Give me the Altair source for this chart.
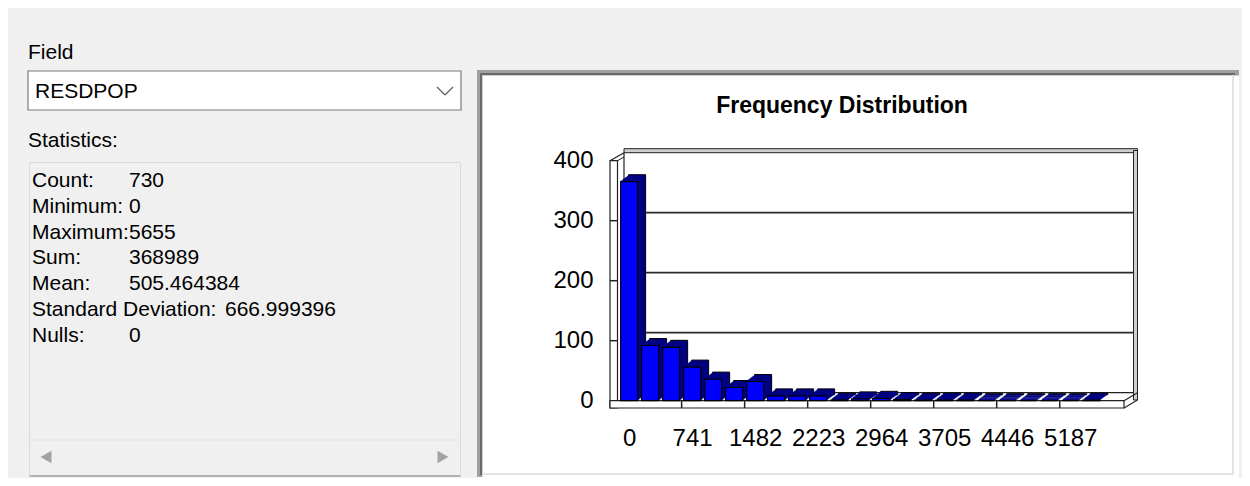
import altair as alt
import pandas as pd

# ---------------- data ----------------
counts = [365, 92, 89, 56, 36, 22, 32, 8, 8, 8, 1, 3, 4, 2, 1, 1, 1, 0, 0, 0, 0, 0, 1]
bin_index = list(range(len(counts)))
x_tick_labels = ["0", "741", "1482", "2223", "2964", "3705", "4446", "5187"]
x_tick_bins = [0, 3, 6, 9, 12, 15, 18, 21]
x_tick_marks = [2.5, 5.5, 8.5, 11.5, 14.5, 17.5, 20.5]
y_ticks = [0, 100, 200, 300, 400]
grid_values = [100, 200, 300]
stat_labels = ["Count:", "Minimum:", "Maximum:", "Sum:", "Mean:", "Standard Deviation:", "Nulls:"]
stat_values = ["730", "0", "5655", "368989", "505.464384", "666.999396", "0"]
field_label = "Field"
field_name = "RESDPOP"
stats_heading = "Statistics:"
chart_title = "Frequency Distribution"

# ---------------- layout helpers ----------------
OX, OY = 610.0, 160.7      # page position of plot origin
W, H = 514, 240
FONT = "Liberation Sans, Arial, sans-serif"
one = pd.DataFrame({"k": [0]})


def px(x):
    return x - OX


def py(y):
    return y - OY


def rect(x1, y1, x2, y2, **kw):
    return alt.Chart(one).mark_rect(**kw).encode(
        x=alt.value(px(x1)), x2=alt.value(px(x2)),
        y=alt.value(py(y1)), y2=alt.value(py(y2)))


def rule(x1, y1, x2, y2, color="#222222", w=1.0):
    return alt.Chart(one).mark_rule(color=color, strokeWidth=w).encode(
        x=alt.value(px(x1)), x2=alt.value(px(x2)),
        y=alt.value(py(y1)), y2=alt.value(py(y2)))


def text(x, y, s, size=21, align="left", weight="normal"):
    return alt.Chart(one).mark_text(
        font=FONT, fontSize=size, align=align, baseline="middle",
        fontWeight=weight, color="#000000").encode(
        x=alt.value(px(x)), y=alt.value(py(y)), text=alt.value(s))


layers = []

# ---------------- left panel ----------------
layers.append(text(28, 53, field_label))
layers.append(rect(28, 71, 461, 110, fill="white", stroke="#7a7a7a", strokeWidth=1.2))
layers.append(text(35, 92, field_name))
layers.append(rule(437, 87, 445, 95, color="#606060", w=1.3))
layers.append(rule(445, 95, 453, 87, color="#606060", w=1.3))
layers.append(text(28, 141, stats_heading))
layers.append(rect(29.5, 162.5, 460.5, 475.5, fill="#f0f0f0", stroke="#dadada", strokeWidth=1))
layers.append(rule(29.5, 476, 460.5, 476, color="#a0a0a0", w=1.5))
layers.append(rule(30, 440, 460, 440, color="#e2e2e2", w=1.2))
for k, (lab, val) in enumerate(zip(stat_labels, stat_values)):
    yy = 181 + 25.8 * k
    layers.append(text(32, yy, lab))
    vx = 225 if lab.startswith("Standard") else 129
    layers.append(text(vx, yy, val))
layers.append(alt.Chart(one).mark_point(shape="triangle-left", filled=True, color="#a3a3a3",
                                        size=160, opacity=1).encode(
    x=alt.value(px(46)), y=alt.value(py(457))))
layers.append(alt.Chart(one).mark_point(shape="triangle-right", filled=True, color="#a3a3a3",
                                        size=160, opacity=1).encode(
    x=alt.value(px(443)), y=alt.value(py(457))))

# ---------------- chart panel frame ----------------
layers.append(rect(477, 70, 1239, 479, fill="white"))
layers.append(rect(477, 70, 1239, 75.5, fill="#a0a0a0"))
layers.append(rect(477, 70, 482.5, 477, fill="#a0a0a0"))
layers.append(rule(480.5, 74, 1235, 74, color="#696969", w=2))
layers.append(rule(481, 74, 481, 475, color="#696969", w=2))
layers.append(rule(482, 474, 1233, 474, color="#e3e3e3", w=2))
layers.append(rule(1233, 75, 1233, 475, color="#e3e3e3", w=2))

layers.append(text(842, 106, chart_title, size=23, align="center", weight="bold"))

# ---------------- scales / axes ----------------
DX, DY = 14, -8
yscale = alt.Scale(domain=[0, 400], nice=False, zero=True)
xscale = alt.Scale(domain=[-0.91, 23.56], nice=False, zero=False)

label_expr = ("[" + ",".join("'%s'" % s for s in x_tick_labels) + "][indexof(["
              + ",".join(str(v) for v in x_tick_bins) + "], datum.value)]")

xaxis = alt.Axis(values=x_tick_bins, labelExpr=label_expr, title=None, domain=False,
                 ticks=False, grid=False, labelFont=FONT, labelFontSize=24,
                 labelColor="#000000", labelPadding=38, labelBaseline="middle",
                 labelFlush=False, labelOverlap=False, zindex=2)
yaxis = alt.Axis(values=y_ticks, title=None, domain=False, ticks=False, grid=False,
                 labelFont=FONT, labelFontSize=24, labelColor="#000000",
                 labelPadding=17, labelFlush=False, labelOverlap=False, zindex=2)

# ---------------- 3D box ----------------
# back wall gridlines
layers.append(alt.Chart(pd.DataFrame({"v": grid_values})).mark_rule(
    color="#2a2a2a", strokeWidth=1.8, yOffset=DY).encode(
    y=alt.Y("v:Q", scale=yscale, axis=yaxis),
    x=alt.value(px(624)), x2=alt.value(px(1133.5))))
# back wall bottom line
layers.append(rule(624, 392.7, 1137.5, 392.7, w=1.2))
# back-left vertical edge
layers.append(rule(624, 152.7, 624, 392.7, w=1.2))
# top slab of back wall
layers.append(rect(624, 148.7, 1137.5, 152.7, fill="#cfcfcf", stroke="#222222", strokeWidth=1))
# right wall slab
layers.append(rect(1133.5, 150.5, 1137.5, 400, fill="#cfcfcf", stroke="#222222", strokeWidth=1))
# left wall slab
layers.append(rect(610, 160.7, 617.5, 408, fill="white", stroke="#222222", strokeWidth=1.2))
layers.append(rule(610, 160.7, 624, 152.7, w=1.2))
layers.append(rule(617.5, 160.7, 624, 157, w=1.0))
# left wall ticks
layers.append(alt.Chart(pd.DataFrame({"v": grid_values})).mark_rule(
    color="#222222", strokeWidth=1.5).encode(
    y=alt.Y("v:Q", scale=yscale, axis=yaxis),
    x=alt.value(0), x2=alt.value(7.5)))
# floor slab
layers.append(rect(610, 400.7, 1124, 408, fill="white", stroke="#222222", strokeWidth=1.2))
layers.append(rule(1124, 400.7, 1137.5, 392.7, w=1.2))
layers.append(rule(1124, 408, 1137.5, 400, w=1.2))
layers.append(alt.Chart(pd.DataFrame({"b": x_tick_marks})).mark_rule(
    color="#222222", strokeWidth=1.5).encode(
    x=alt.X("b:Q", scale=xscale, axis=xaxis),
    y=alt.value(py(400.7)), y2=alt.value(py(408))))

# ---------------- bars ----------------
bars = pd.DataFrame({"bin": bin_index, "count": counts})
base = alt.Chart(bars).transform_calculate(
    x0="datum.bin - 0.405", x1="datum.bin + 0.405", zero="0")

for k in range(8, 0, -1):
    kw = dict(fill="#000080", xOffset=k, x2Offset=k,
              yOffset=-0.75 * k - 1, y2Offset=-0.75 * k)
    if k == 8:
        kw.update(stroke="#000000", strokeWidth=1)
    layers.append(base.mark_rect(**kw).encode(
        x=alt.X("x0:Q", scale=xscale, axis=xaxis), x2="x1:Q",
        y=alt.Y("count:Q", scale=yscale, axis=yaxis), y2="zero:Q"))

layers.append(base.mark_rect(fill="#0000ff", stroke="#000000", strokeWidth=1.2).encode(
    x=alt.X("x0:Q", scale=xscale, axis=xaxis), x2="x1:Q",
    y=alt.Y("count:Q", scale=yscale, axis=yaxis), y2="zero:Q"))

chart = alt.layer(*layers).properties(
    width=W, height=H,
    autosize=alt.AutoSizeParams(type="none"),
    padding={"left": OX - 8, "top": OY - 8, "right": 1242 - (OX + W), "bottom": 478 - (OY + H)},
    background="#f0f0f0",
).configure_view(strokeWidth=0)

chart.save("out.html", embed_options={"renderer": "svg", "actions": False})
